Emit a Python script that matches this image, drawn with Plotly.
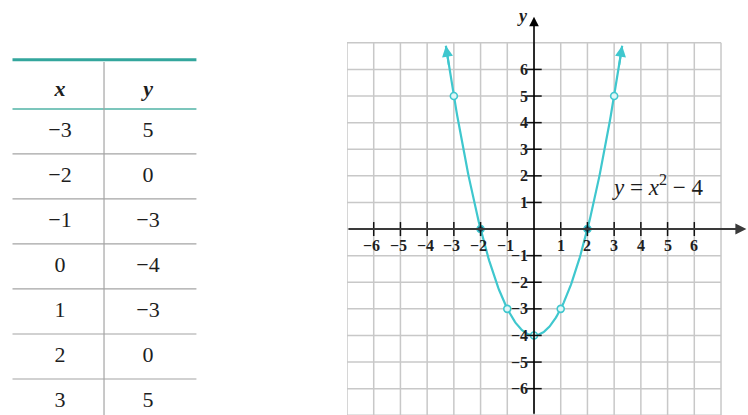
import numpy as np
import plotly.graph_objects as go

# Table of values for y = x^2 - 4
x_vals = [-3, -2, -1, 0, 1, 2, 3]
y_vals = [5, 0, -3, -4, -3, 0, 5]
header = ["x", "y"]

# Axis ticks and grid
x_ticks = [-6, -5, -4, -3, -2, -1, 1, 2, 3, 4, 5, 6]
y_ticks = [-6, -5, -4, -3, -2, -1, 1, 2, 3, 4, 5, 6]
grid_lines = list(range(-7, 8))

# Curve extent (arrow tips)
curve_x_end = 3.3

TEAL = "#3fc7ce"
SERIF = "Liberation Serif"
INK = "#1e1e1e"


def fmt(v):
    return str(v).replace("-", "\u2212")


def f(x):
    return x ** 2 - 4


fig = go.Figure()

# ---------- graph ----------
xs = np.linspace(-curve_x_end, curve_x_end, 200)
fig.add_trace(go.Scatter(x=xs, y=f(xs), mode="lines",
                         line=dict(color=TEAL, width=2.2),
                         xaxis="x", yaxis="y", hoverinfo="skip"))

# plotted points; the x-intercepts sit on the axis and read darker
pt_fill = ["#1f5873" if v == 0 else "#dff6f7" for v in y_vals]
fig.add_trace(go.Scatter(x=x_vals, y=y_vals, mode="markers",
                         marker=dict(size=7, color=pt_fill,
                                     line=dict(color=TEAL, width=1.6)),
                         xaxis="x", yaxis="y", hoverinfo="skip"))

# tick marks crossing the axes
fig.add_trace(go.Scatter(x=x_ticks, y=[0] * len(x_ticks), mode="markers",
                         marker=dict(symbol="line-ns", size=10,
                                     line=dict(color="#111", width=1.5)),
                         xaxis="x", yaxis="y", hoverinfo="skip"))
fig.add_trace(go.Scatter(x=[0] * len(y_ticks), y=y_ticks, mode="markers",
                         marker=dict(symbol="line-ew", size=11,
                                     line=dict(color="#111", width=1.5)),
                         xaxis="x", yaxis="y", hoverinfo="skip"))

shapes = []
for v in grid_lines:
    shapes.append(dict(type="line", xref="x", yref="y", x0=v, x1=v,
                       y0=grid_lines[0], y1=grid_lines[-1], layer="below",
                       line=dict(color="#c8c8c8", width=1.5)))
    shapes.append(dict(type="line", xref="x", yref="y", y0=v, y1=v,
                       x0=grid_lines[0], x1=grid_lines[-1], layer="below",
                       line=dict(color="#c8c8c8", width=1.5)))

annotations = []
# axes with arrowheads
annotations.append(dict(x=7.95, y=0, ax=grid_lines[0], ay=0, xref="x", yref="y",
                        axref="x", ayref="y", text="", showarrow=True,
                        arrowhead=2, arrowsize=1.1, arrowwidth=2,
                        arrowcolor="#3a3a3a"))
annotations.append(dict(x=0, y=7.98, ax=0, ay=grid_lines[0], xref="x", yref="y",
                        axref="x", ayref="y", text="", showarrow=True,
                        arrowhead=2, arrowsize=1.2, arrowwidth=1.6,
                        arrowcolor="#000"))
# curve end arrows
for s in (-1, 1):
    xe = s * curve_x_end
    xb = s * (curve_x_end - 0.12)
    annotations.append(dict(x=xe, y=f(xe), ax=xb, ay=f(xb), xref="x", yref="y",
                            axref="x", ayref="y", text="", showarrow=True,
                            arrowhead=2, arrowsize=1.1, arrowwidth=2,
                            arrowcolor=TEAL))
# axis names
annotations.append(dict(x=0, y=7.98, xref="x", yref="y", text="<b><i>y</i></b>",
                        showarrow=False, xanchor="right", xshift=-4, yshift=1,
                        font=dict(family=SERIF, size=18, color=INK)))
annotations.append(dict(x=7.98, y=0, xref="x", yref="y", text="<b><i>x</i></b>",
                        showarrow=False, xanchor="left", yanchor="top", yshift=-3,
                        font=dict(family=SERIF, size=18, color=INK)))
# tick labels
for t in x_ticks:
    annotations.append(dict(x=t, y=0, xref="x", yref="y", text=f"<b>{fmt(t)}</b>",
                            showarrow=False, yanchor="top", yshift=-6,
                            xshift=-2 if t < 0 else 0,
                            font=dict(family=SERIF, size=16, color=INK)))
for t in y_ticks:
    annotations.append(dict(x=0, y=t, xref="x", yref="y", text=f"<b>{fmt(t)}</b>",
                            showarrow=False, xanchor="right", xshift=-4,
                            font=dict(family=SERIF, size=16, color=INK)))
# equation label
annotations.append(dict(x=4.62, y=1.65, xref="x", yref="y",
                        text="<i>y</i> = <i>x</i><sup>2</sup> \u2212 4",
                        showarrow=False,
                        font=dict(family=SERIF, size=23, color=INK)))

# ---------- table ----------
col_x = [0.5, 1.5]
header_y = -0.4
top_y = -1.09
rows = list(range(len(x_vals)))

fig.add_trace(go.Scatter(x=col_x, y=[header_y, header_y], mode="text",
                         text=[f"<b><i>{h}</i></b>" for h in header],
                         textfont=dict(family=SERIF, size=22, color=INK),
                         xaxis="x2", yaxis="y2", hoverinfo="skip",
                         cliponaxis=False))
fig.add_trace(go.Scatter(x=[col_x[0]] * len(rows), y=[r + 0.5 for r in rows],
                         mode="text", text=[fmt(v) for v in x_vals],
                         textfont=dict(family=SERIF, size=22, color=INK),
                         xaxis="x2", yaxis="y2", hoverinfo="skip",
                         cliponaxis=False))
fig.add_trace(go.Scatter(x=[col_x[1]] * len(rows), y=[r + 0.5 for r in rows],
                         mode="text", text=[fmt(v) for v in y_vals],
                         textfont=dict(family=SERIF, size=22, color=INK),
                         xaxis="x2", yaxis="y2", hoverinfo="skip",
                         cliponaxis=False))

tx0, tx1 = -0.04, 2.05
shapes.append(dict(type="line", xref="x2", yref="y2", x0=tx0, x1=tx1,
                   y0=top_y, y1=top_y, line=dict(color="#33a69d", width=3)))
shapes.append(dict(type="line", xref="x2", yref="y2", x0=tx0, x1=tx1,
                   y0=0, y1=0, line=dict(color="#7cc6bc", width=2)))
for r in rows[1:]:
    shapes.append(dict(type="line", xref="x2", yref="y2", x0=tx0, x1=tx1,
                       y0=r, y1=r, line=dict(color="#a4a4a4", width=1.2)))
shapes.append(dict(type="line", xref="x2", yref="y2", x0=1, x1=1,
                   y0=top_y + 0.05, y1=len(rows) + 0.5,
                   line=dict(color="#a4a4a4", width=1.2)))

hidden = dict(visible=False, showgrid=False, zeroline=False, fixedrange=True)
fig.update_layout(
    width=748, height=415,
    margin=dict(l=0, r=0, t=0, b=0),
    paper_bgcolor="white", plot_bgcolor="white",
    showlegend=False, hovermode=False,
    font=dict(family=SERIF),
    xaxis=dict(domain=[0.4639, 1.0], range=[-7.0, 8.01], anchor="y", **hidden),
    yaxis=dict(domain=[0, 1], range=[-6.99, 8.61], anchor="x", **hidden),
    xaxis2=dict(domain=[0, 0.3], range=[-0.182, 2.368], anchor="y2", **hidden),
    yaxis2=dict(domain=[0, 1], range=[6.8, -2.42], anchor="x2", **hidden),
    shapes=shapes,
    annotations=annotations,
)

fig.write_html("out.html")
